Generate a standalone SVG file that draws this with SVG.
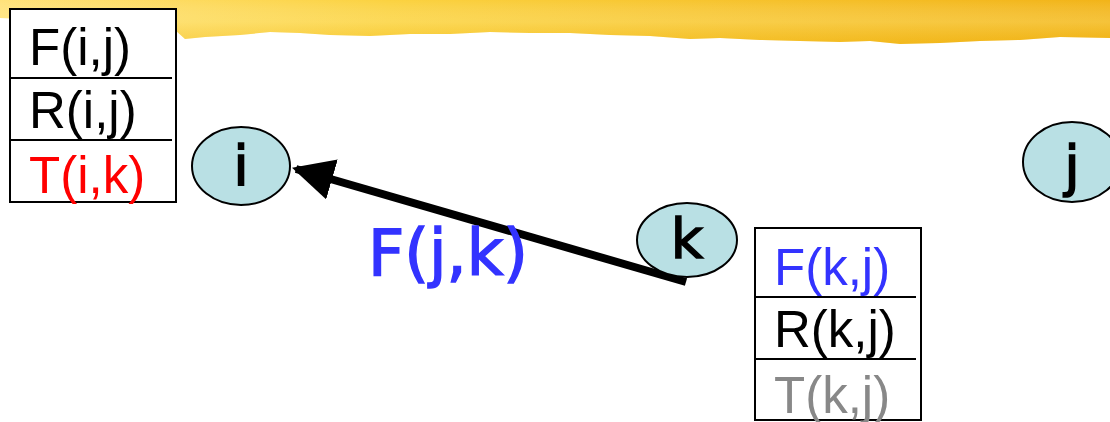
<svg xmlns="http://www.w3.org/2000/svg" width="1110" height="422" viewBox="0 0 1110 422">
<defs>
<linearGradient id="brush" x1="0" y1="0" x2="1" y2="0">
<stop offset="0" stop-color="#ffe27a"/>
<stop offset="0.35" stop-color="#fbd240"/>
<stop offset="0.7" stop-color="#f6c12a"/>
<stop offset="1" stop-color="#f2b418"/>
</linearGradient>
<linearGradient id="brushv" x1="0" y1="0" x2="0" y2="1">
<stop offset="0" stop-color="#fff" stop-opacity="0"/>
<stop offset="0.5" stop-color="#fff0a0" stop-opacity="0.25"/>
<stop offset="1" stop-color="#e8a800" stop-opacity="0.2"/>
</linearGradient>
<marker id="ah" viewBox="0 0 10 10" refX="9" refY="5" markerWidth="5.2" markerHeight="5.2" orient="auto" markerUnits="strokeWidth">
<path d="M0,0 L10,5 L0,10 Z" fill="#000"/>
</marker>
<style>
.tbl{fill:#fff;stroke:#000;stroke-width:2}
.sep{stroke:#000;stroke-width:2}
.cell{font-family:"Liberation Sans",Arial,sans-serif;font-size:51px}
.node ellipse{fill:#b9e0e4;stroke:#000;stroke-width:2}
.nl{font-family:"DejaVu Sans",sans-serif;font-size:56px;text-anchor:middle;fill:#000;stroke:#000;stroke-width:1.5}
</style>
</defs>
<g id="banner">
<path d="M0,0 L1110,0 L1110,38 L1060,37 L1020,40 L980,41 L940,43 L900,44 L870,41 L840,42 L800,41 L760,40 L720,38 L690,39 L650,36 L610,35 L570,33 L530,33 L490,32 L450,34 L410,34 L370,36 L330,35 L300,33 L270,32 L240,35 L205,37 L185,39 L175,30 L130,25 L90,22 L50,20 L0,18 Z" fill="url(#brush)"/>
<path d="M0,0 L1110,0 L1110,38 L1060,37 L1020,40 L980,41 L940,43 L900,44 L870,41 L840,42 L800,41 L760,40 L720,38 L690,39 L650,36 L610,35 L570,33 L530,33 L490,32 L450,34 L410,34 L370,36 L330,35 L300,33 L270,32 L240,35 L205,37 L185,39 L175,30 L130,25 L90,22 L50,20 L0,18 Z" fill="url(#brushv)"/>
</g>
<g id="table-i">
<rect class="tbl" x="10" y="9" width="166" height="193"/>
<line class="sep" x1="11" y1="78" x2="172" y2="78"/>
<line class="sep" x1="11" y1="140" x2="172" y2="140"/>
<text class="cell" x="29" y="65" fill="#000">F(i,j)</text>
<text class="cell" x="29" y="128" fill="#000">R(i,j)</text>
<text class="cell" x="29" y="193" fill="#ff0000">T(i,k)</text>
</g>
<g id="table-k">
<rect class="tbl" x="755" y="228" width="166" height="192"/>
<line class="sep" x1="756" y1="297" x2="916" y2="297"/>
<line class="sep" x1="756" y1="359" x2="916" y2="359"/>
<text class="cell" x="774" y="285" fill="#3333ff">F(k,j)</text>
<text class="cell" x="774" y="347" fill="#000">R(k,j)</text>
<text class="cell" x="774" y="413" fill="#888888">T(k,j)</text>
</g>
<g id="connectors">
<line x1="686" y1="282" x2="296" y2="169" stroke="#000" stroke-width="8" marker-end="url(#ah)"/>
<text x="368" y="275" font-family="DejaVu Sans,sans-serif" font-size="64" fill="#3333ff" stroke="#3333ff" stroke-width="1.5" textLength="160" lengthAdjust="spacingAndGlyphs">F(j,k)</text>
</g>
<g id="node-i" class="node">
<ellipse cx="241" cy="166" rx="49" ry="39"/>
<text class="nl" x="241" y="185">i</text>
</g>
<g id="node-k" class="node">
<ellipse cx="687" cy="240" rx="50" ry="37"/>
<text class="nl" x="687" y="258">k</text>
</g>
<g id="node-j" class="node">
<ellipse cx="1072" cy="162" rx="49" ry="40"/>
<text class="nl" x="1072" y="185">j</text>
</g>
</svg>
